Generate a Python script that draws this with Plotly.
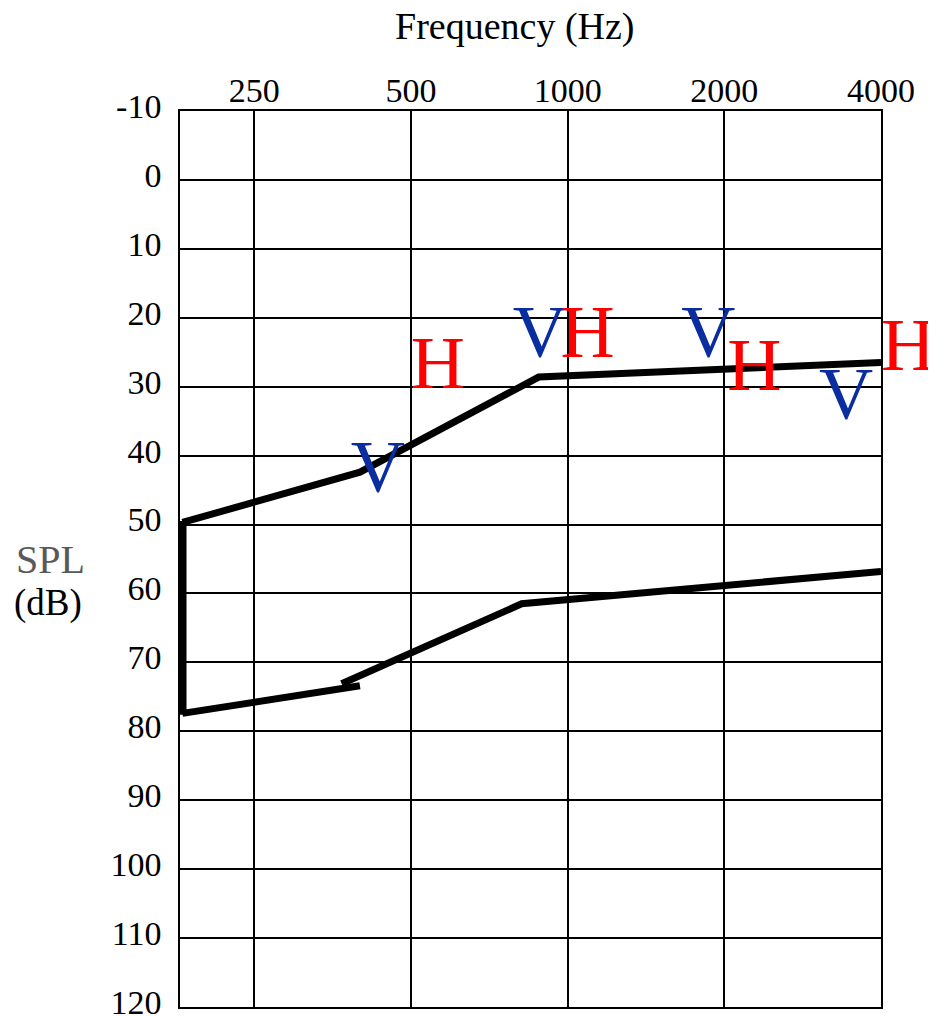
import numpy as np
import plotly.graph_objects as go

# audiogram-style chart: frequency (Hz) on a log axis, SPL (dB) reversed
freq_ticks = [250, 500, 1000, 2000, 4000]
spl_ticks = list(range(-10, 130, 10))
spl_labels = ["-10"] + [str(v) for v in spl_ticks[1:]]

# upper boundary line
upper_f = [182, 399, 880, 4000]
upper_db = [49.7, 42.4, 28.6, 26.5]

# lower boundary line (drawn as two overlapping pieces, like the original)
lower_a_f = [182, 399]
lower_a_db = [77.4, 73.4]
lower_b_f = [368, 816, 4000]
lower_b_db = [73.1, 61.5, 56.8]

# left side closing line
left_f = [182, 182]
left_db = [49.5, 77.6]

# V / H markers (the last H sits just right of the 4000 Hz line)
v_f = [432, 884, 1864, 3427]
v_db = [42.6, 23.0, 22.9, 32.0]
h_f = [563, 1092, 2283]
h_db = [27.5, 22.9, 27.7]
h_edge_f = [4000]
h_edge_db = [24.8]

serif = "Liberation Serif, Times New Roman, serif"

fig = go.Figure()

fig.add_trace(go.Scatter(x=upper_f, y=upper_db, mode="lines",
                         line=dict(color="black", width=7)))
fig.add_trace(go.Scatter(x=lower_a_f, y=lower_a_db, mode="lines",
                         line=dict(color="black", width=7)))
fig.add_trace(go.Scatter(x=lower_b_f, y=lower_b_db, mode="lines",
                         line=dict(color="black", width=7)))
fig.add_trace(go.Scatter(x=left_f, y=left_db, mode="lines",
                         line=dict(color="black", width=8)))

fig.add_trace(go.Scatter(x=v_f, y=v_db, mode="text", text=["V"] * len(v_f),
                         textposition="middle center", cliponaxis=False,
                         textfont=dict(family=serif, size=75, color="#0a2ea0")))
fig.add_trace(go.Scatter(x=h_f, y=h_db, mode="text", text=["H"] * len(h_f),
                         textposition="middle center", cliponaxis=False,
                         textfont=dict(family=serif, size=75, color="#ff0000")))
fig.add_trace(go.Scatter(x=h_edge_f, y=h_edge_db, mode="text", text=["H"],
                         textposition="middle right", cliponaxis=False,
                         textfont=dict(family=serif, size=75, color="#ff0000")))

fig.update_xaxes(
    type="log",
    range=[np.log10(180), np.log10(4000)],
    side="top",
    tickvals=freq_ticks,
    ticktext=[str(f) for f in freq_ticks],
    tickfont=dict(family=serif, size=34, color="black"),
    ticks="", ticklabelstandoff=-6,
    showgrid=True, gridcolor="black", gridwidth=1.5,
    showline=True, linecolor="black", linewidth=1.5, mirror=True,
    zeroline=False, automargin=False, ticklabeloverflow="allow",
)
fig.update_yaxes(
    range=[120, -10],
    tickvals=spl_ticks,
    ticktext=spl_labels,
    tickfont=dict(family=serif, size=34, color="black"),
    ticks="outside", ticklen=10, tickcolor="rgba(0,0,0,0)",
    ticklabelshift=5,
    showgrid=True, gridcolor="black", gridwidth=1.5,
    showline=True, linecolor="black", linewidth=1.5, mirror=True,
    zeroline=False, automargin=False, ticklabeloverflow="allow",
)

fig.add_annotation(text="Frequency (Hz)", xref="paper", yref="paper",
                   x=0.478, y=1.094, xanchor="center", yanchor="middle",
                   showarrow=False,
                   font=dict(family=serif, size=38, color="black"))
fig.add_annotation(text="SPL", xref="paper", yref="paper",
                   x=-0.185, y=0.499, xanchor="center", yanchor="middle",
                   showarrow=False,
                   font=dict(family=serif, size=40, color="#595959"))
fig.add_annotation(text="(dB)", xref="paper", yref="paper",
                   x=-0.188, y=0.451, xanchor="center", yanchor="middle",
                   showarrow=False,
                   font=dict(family=serif, size=37, color="black"))

# the page body adds an 8px offset, so the figure is 8px smaller on each side
fig.update_layout(
    width=928, height=1008,
    margin=dict(l=172, r=55, t=103, b=9),
    paper_bgcolor="white", plot_bgcolor="white",
    showlegend=False,
)

fig.write_html("out.html")
